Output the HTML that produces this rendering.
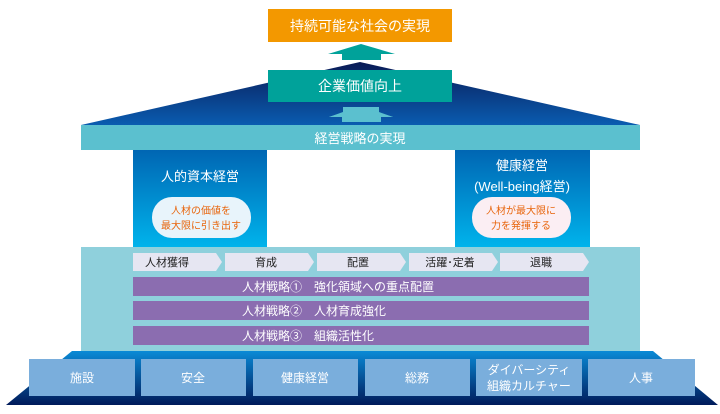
<!DOCTYPE html>
<html><head><meta charset="utf-8"><style>
html,body{margin:0;padding:0;background:#fff;width:720px;height:414px;overflow:hidden}
svg text{font-family:"Liberation Sans","Noto Sans CJK JP",sans-serif}
</style></head><body>
<svg width="720" height="414" viewBox="0 0 720 414" xmlns="http://www.w3.org/2000/svg">
<defs>
<linearGradient id="roof" x1="0" y1="0" x2="0" y2="1"><stop offset="0" stop-color="#0a1a55"/><stop offset="1" stop-color="#0a5cb0"/></linearGradient>
<linearGradient id="pil" x1="0" y1="0" x2="0" y2="1"><stop offset="0" stop-color="#0066b3"/><stop offset="1" stop-color="#00b4ec"/></linearGradient>
<linearGradient id="base" x1="0" y1="0" x2="0" y2="1"><stop offset="0" stop-color="#0a8ad6"/><stop offset="1" stop-color="#001a5a"/></linearGradient>
</defs>
<!-- top -->
<rect x="268" y="9" width="184" height="33" fill="#f39800"/>
<text x="360" y="31" font-size="14" fill="#fff" text-anchor="middle">持続可能な社会の実現</text>
<polygon points="328,60 342,60 342,54 328,54 361,44 395,54 381,54 381,60" fill="#00a29a"/>
<polygon points="342,54 381,54 381,60 342,60" fill="#00a29a"/>
<!-- roof -->
<polygon points="360,62 640,125 81,125" fill="url(#roof)"/>
<rect x="268" y="70" width="184" height="32" fill="#00a29a"/>
<text x="360" y="91" font-size="14" fill="#fff" text-anchor="middle">企業価値向上</text>
<polygon points="329,117 343,112 343,107 379,107 379,112 393,117" fill="#5bc0cf"/>
<polygon points="343,107 379,107 393,117 393,122 343,122 329,117" fill="none"/>
<polygon points="329,117 361,107 393,117 381,117 381,122 342,122 342,117" fill="#5bc0cf"/>
<rect x="81" y="125" width="559" height="25" fill="#5bc0cf"/>
<text x="360" y="143" font-size="13" fill="#fff" text-anchor="middle">経営戦略の実現</text>
<!-- pillars -->
<rect x="133" y="150" width="134" height="98" fill="url(#pil)"/>
<rect x="455" y="150" width="135" height="98" fill="url(#pil)"/>
<text x="200" y="181" font-size="13" fill="#fff" text-anchor="middle">人的資本経営</text>
<text x="522" y="170" font-size="13" fill="#fff" text-anchor="middle">健康経営</text>
<text x="522" y="191" font-size="13" fill="#fff" text-anchor="middle">(Well-being経営)</text>
<rect x="152" y="197" width="99" height="41" rx="20" fill="#e8f4fb"/>
<rect x="472" y="197" width="99" height="41" rx="20" fill="#fbeef3"/>
<text x="201" y="214" font-size="10" fill="#e8650c" text-anchor="middle">人材の価値を</text>
<text x="201" y="229" font-size="10" fill="#e8650c" text-anchor="middle">最大限に引き出す</text>
<text x="521" y="214" font-size="10" fill="#e8650c" text-anchor="middle">人材が最大限に</text>
<text x="521" y="229" font-size="10" fill="#e8650c" text-anchor="middle">力を発揮する</text>
<!-- panel -->
<rect x="81" y="247" width="559" height="104" fill="#8fd0dc"/>
<g fill="#e6e6f2">
<polygon points="133,253 216,253 222,262 216,271 133,271"/>
<polygon points="225,253 308,253 314,262 308,271 225,271"/>
<polygon points="317,253 400,253 406,262 400,271 317,271"/>
<polygon points="409,253 492,253 498,262 492,271 409,271"/>
<polygon points="500,253 583,253 589,262 583,271 500,271"/>
</g>
<g font-size="11" fill="#222" text-anchor="middle">
<text x="167" y="266">人材獲得</text>
<text x="266" y="266">育成</text>
<text x="358" y="266">配置</text>
<text x="450" y="266">活躍･定着</text>
<text x="541" y="266">退職</text>
</g>
<g fill="#8b6db0">
<rect x="133" y="277" width="456" height="19"/>
<rect x="133" y="301" width="456" height="19"/>
<rect x="133" y="326" width="456" height="19"/>
</g>
<g font-size="12" fill="#fff">
<text x="242" y="291">人材戦略①　強化領域への重点配置</text>
<text x="242" y="315">人材戦略②　人材育成強化</text>
<text x="242" y="340">人材戦略③　組織活性化</text>
</g>
<!-- base -->
<polygon points="72,351 653,351 718,405 6,405" fill="url(#base)"/>
<g fill="#7aaedc">
<rect x="29" y="359" width="106" height="37"/>
<rect x="141" y="359" width="105" height="37"/>
<rect x="253" y="359" width="105" height="37"/>
<rect x="365" y="359" width="105" height="37"/>
<rect x="476" y="359" width="106" height="37"/>
<rect x="588" y="359" width="107" height="37"/>
</g>
<g font-size="12" fill="#fff" text-anchor="middle">
<text x="82" y="382">施設</text>
<text x="193" y="382">安全</text>
<text x="305" y="382">健康経営</text>
<text x="417" y="382">総務</text>
<text x="529" y="374">ダイバーシティ</text>
<text x="529" y="390">組織カルチャー</text>
<text x="641" y="382">人事</text>
</g>
</svg>
</body></html>
